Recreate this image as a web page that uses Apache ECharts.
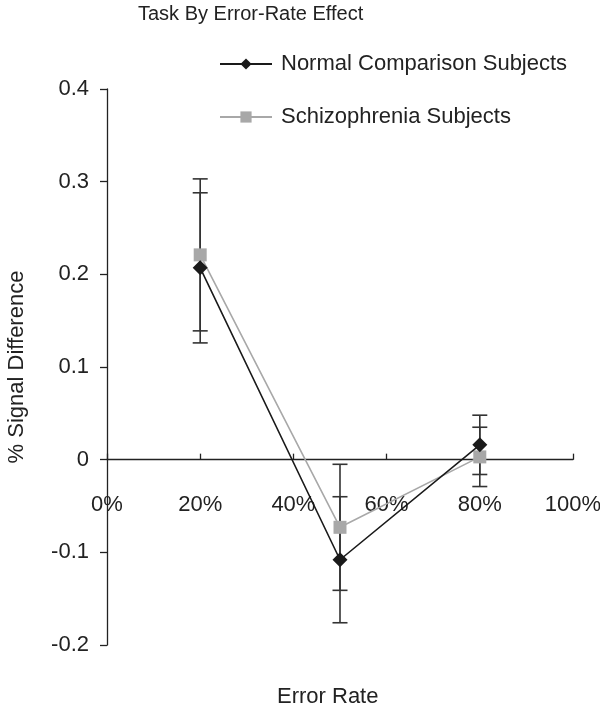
<!DOCTYPE html>
<html>
<head>
<meta charset="utf-8">
<script src="https://cdn.jsdelivr.net/npm/echarts@6/dist/echarts.min.js"></script>
<style>
html,body{margin:0;padding:0;background:#fff;}
#chart{width:600px;height:709px;}
</style>
</head>
<body>
<div id="chart"></div>
<script>
const errorRate = [20, 50, 80];
const normalMean = [0.207, -0.108, 0.016];
const normalErr = [0.081, 0.068, 0.032];
const schizMean = [0.221, -0.073, 0.003];
const schizErr = [0.082, 0.068, 0.032];
const xTicks = [0, 20, 40, 60, 80, 100];
const yTicks = [-0.2, -0.1, 0, 0.1, 0.2, 0.3, 0.4];

const FONT = '"Liberation Sans", Arial, Helvetica, sans-serif';
const TXT = '#222';
const GRID_TOP = 89, GRID_BOTTOM = 64, H = 709;
const plotH = H - GRID_TOP - GRID_BOTTOM;
const yMin = yTicks[0], yMax = yTicks[yTicks.length - 1];
// distance from the grid bottom up to the zero line, used to place the x axis
const zeroOffset = -plotH * (0 - yMin) / (yMax - yMin);

function errData(means, errs) {
  return errorRate.map((x, i) => [x, means[i] - errs[i], means[i] + errs[i]]);
}
function errRender(params, api) {
  const x = api.value(0);
  const lo = api.coord([x, api.value(1)]);
  const hi = api.coord([x, api.value(2)]);
  const hw = 7.5;
  const style = { stroke: '#333', lineWidth: 1.6 };
  return {
    type: 'group',
    children: [
      { type: 'line', shape: { x1: lo[0], y1: lo[1], x2: hi[0], y2: hi[1] }, style },
      { type: 'line', shape: { x1: lo[0] - hw, y1: lo[1], x2: lo[0] + hw, y2: lo[1] }, style },
      { type: 'line', shape: { x1: hi[0] - hw, y1: hi[1], x2: hi[0] + hw, y2: hi[1] }, style }
    ]
  };
}

const chart = echarts.init(document.getElementById('chart'), null, { renderer: 'canvas' });
chart.setOption({
  animation: false,
  backgroundColor: '#fff',
  textStyle: { fontFamily: FONT, color: TXT },
  title: {
    text: 'Task By Error-Rate Effect',
    left: 138, top: 4, padding: 0,
    textStyle: { fontFamily: FONT, fontSize: 20, fontWeight: 'normal', color: TXT }
  },
  legend: {
    orient: 'vertical',
    left: 219, top: 53, padding: 0,
    itemWidth: 52, itemHeight: 14,
    itemGap: 31,
    data: ['Normal Comparison Subjects', 'Schizophrenia Subjects'],
    textStyle: { fontFamily: FONT, fontSize: 22, color: TXT, padding: [0, 0, 0, 4] }
  },
  grid: { left: 107, right: 27, top: GRID_TOP, bottom: GRID_BOTTOM, outerBoundsMode: 'none', containLabel: false },
  xAxis: {
    type: 'value', min: xTicks[0], max: xTicks[xTicks.length - 1], interval: 20,
    offset: zeroOffset,
    axisLine: { onZero: false, lineStyle: { color: '#222', width: 1.3 } },
    axisTick: { show: true, inside: true, length: 6, lineStyle: { color: '#222', width: 1.3 } },
    axisLabel: { margin: 34, fontFamily: FONT, fontSize: 22, color: TXT, formatter: '{value}%' },
    splitLine: { show: false }
  },
  yAxis: {
    type: 'value', min: yMin, max: yMax, interval: 0.1,
    name: '% Signal Difference',
    nameLocation: 'middle', nameGap: 79,
    nameTextStyle: { fontFamily: FONT, fontSize: 22, color: TXT },
    axisLine: { show: true, onZero: false, lineStyle: { color: '#222', width: 1.3 } },
    axisTick: { show: true, inside: false, length: 7, lineStyle: { color: '#222', width: 1.3 } },
    axisLabel: { margin: 18, fontFamily: FONT, fontSize: 22, color: TXT,
      formatter: v => (Math.round(v * 10) / 10).toString() },
    splitLine: { show: false }
  },
  graphic: [{
    type: 'text', left: 277, top: 686,
    style: { text: 'Error Rate', font: '22px ' + FONT, fill: TXT }
  }],
  series: [
    {
      type: 'custom', name: 'errN', renderItem: errRender, z: 1,
      data: errData(normalMean, normalErr), encode: { x: 0, y: [1, 2] }, silent: true
    },
    {
      type: 'custom', name: 'errS', renderItem: errRender, z: 1,
      data: errData(schizMean, schizErr), encode: { x: 0, y: [1, 2] }, silent: true
    },
    {
      name: 'Schizophrenia Subjects', type: 'line', z: 3,
      data: errorRate.map((x, i) => [x, schizMean[i]]),
      symbol: 'rect', symbolSize: 13,
      lineStyle: { color: '#a8a8a8', width: 1.6 },
      itemStyle: { color: '#a8a8a8' }
    },
    {
      name: 'Normal Comparison Subjects', type: 'line', z: 4,
      data: errorRate.map((x, i) => [x, normalMean[i]]),
      symbol: 'diamond', symbolSize: 15,
      lineStyle: { color: '#1a1a1a', width: 1.6 },
      itemStyle: { color: '#1a1a1a' }
    }
  ]
});
</script>
</body>
</html>
